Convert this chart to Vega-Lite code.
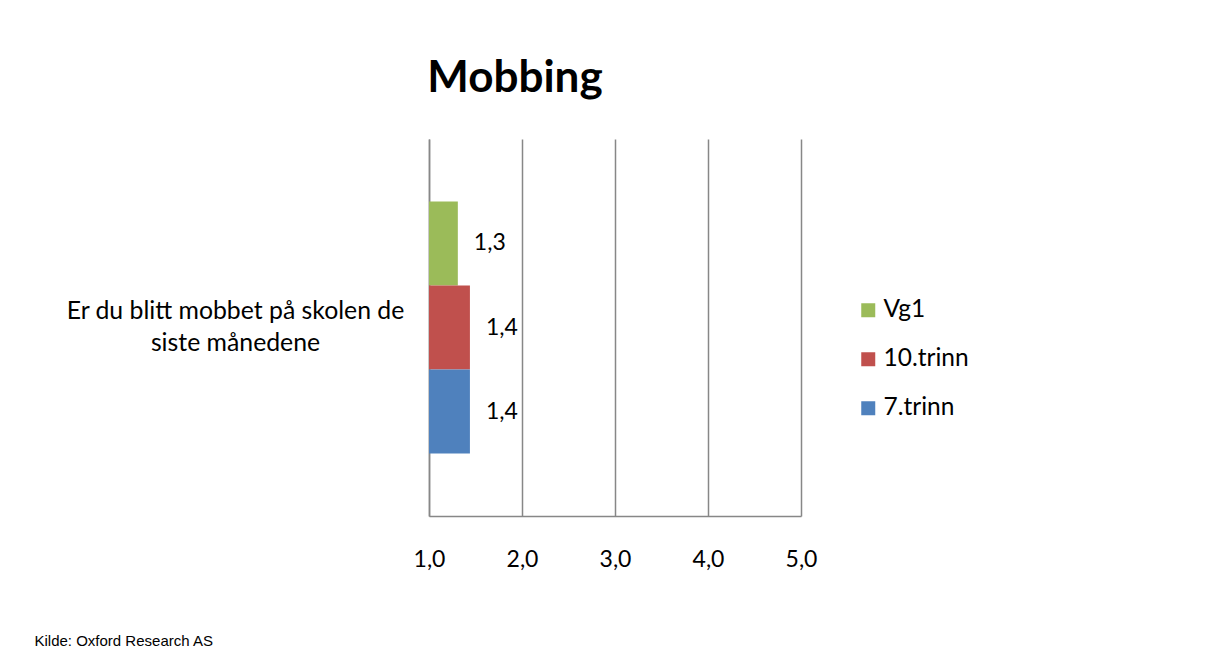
{
  "$schema": "https://vega.github.io/schema/vega-lite/v6.json",
  "width": 372,
  "height": 377,
  "autosize": {"type": "none"},
  "padding": {"left": 429, "top": 139, "right": 406, "bottom": 139},
  "background": "white",
  "title": {
    "text": "Mobbing",
    "font": "Lato",
    "fontSize": 44,
    "fontWeight": "bold",
    "color": "black",
    "anchor": "middle",
    "frame": "group",
    "dx": -100,
    "baseline": "alphabetic",
    "offset": 3
  },
  "data": {
    "values": [
      {"question": "Er du blitt mobbet på skolen de siste månedene", "series": "Vg1", "value": 1.31},
      {"question": "Er du blitt mobbet på skolen de siste månedene", "series": "10.trinn", "value": 1.44},
      {"question": "Er du blitt mobbet på skolen de siste månedene", "series": "7.trinn", "value": 1.44}
    ]
  },
  "encoding": {
    "y": {
      "field": "question",
      "type": "nominal",
      "scale": {"paddingInner": 0, "paddingOuter": 0.248},
      "axis": {
        "title": null,
        "domain": true,
        "domainColor": "#878787",
        "domainWidth": 1.5,
        "ticks": false,
        "grid": false,
        "labelExpr": "['Er du blitt mobbet på skolen de', 'siste månedene']",
        "labelAlign": "center",
        "labelBaseline": "middle",
        "labelOffset": -16,
        "labelPadding": 194,
        "labelFont": "Lato",
        "labelFontSize": 24.8,
        "labelLineHeight": 32,
        "labelColor": "black",
        "labelLimit": 500
      }
    },
    "yOffset": {
      "field": "series",
      "type": "nominal",
      "sort": ["Vg1", "10.trinn", "7.trinn"],
      "scale": {"paddingInner": 0, "paddingOuter": 0}
    }
  },
  "layer": [
    {
      "mark": {"type": "bar"},
      "encoding": {
        "x": {
          "field": "value",
          "type": "quantitative",
          "scale": {"domain": [1, 5], "zero": false, "nice": false},
          "axis": {
            "values": [1, 2, 3, 4, 5],
            "format": ".1f",
            "grid": true,
            "gridColor": "#878787",
            "gridWidth": 1.5,
            "domain": true,
            "domainColor": "#878787",
            "domainWidth": 1.5,
            "ticks": false,
            "labelFont": "Lato",
            "labelFontSize": 23,
            "labelColor": "black",
            "labelBaseline": "middle",
            "labelPadding": 43,
            "labelFlush": false,
            "title": "Kilde: Oxford Research AS",
            "titleFont": "Liberation Sans",
            "titleFontSize": 15,
            "titleFontWeight": "normal",
            "titleColor": "black",
            "titleAlign": "left",
            "titleBaseline": "alphabetic",
            "titleAnchor": "start",
            "titleX": -395,
            "titleY": 129
          }
        },
        "x2": {"datum": 1},
        "color": {
          "field": "series",
          "type": "nominal",
          "scale": {
            "domain": ["Vg1", "10.trinn", "7.trinn"],
            "range": ["#9BBB59", "#C0504D", "#4F81BD"]
          },
          "legend": {
            "title": null,
            "orient": "none",
            "legendX": 427,
            "legendY": 159,
            "symbolType": "square",
            "symbolSize": 196,
            "symbolStrokeWidth": 0,
            "symbolOpacity": 1,
            "labelFont": "Lato",
            "labelFontSize": 24.5,
            "labelColor": "black",
            "labelOffset": 3,
            "rowPadding": 24,
            "padding": 0
          }
        }
      }
    },
    {
      "mark": {"type": "text", "align": "left", "baseline": "middle", "dx": 16, "font": "Lato", "fontSize": 23, "color": "black"},
      "encoding": {
        "x": {"field": "value", "type": "quantitative"},
        "text": {"field": "value", "type": "quantitative", "format": ".1f"}
      }
    }
  ],
  "config": {
    "locale": {"number": {"decimal": ",", "thousands": " ", "grouping": [3], "currency": ["", " kr"]}},
    "view": {"stroke": null}
  }
}
